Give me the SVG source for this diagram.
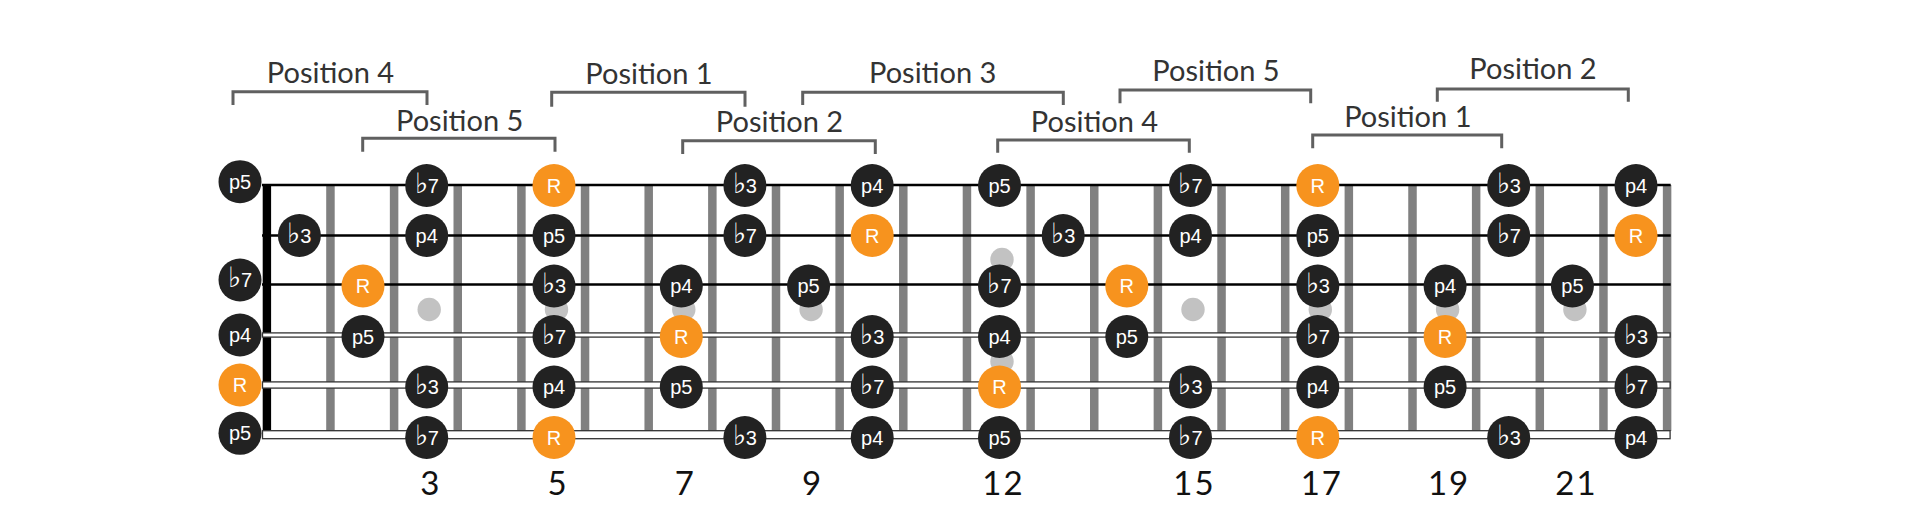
<svg xmlns="http://www.w3.org/2000/svg" width="1920" height="525" viewBox="0 0 1920 525">
<style>
.bg{fill:#ffffff}
.fret{stroke:#808080;stroke-width:8.5;fill:none}
.dot{fill:#c2c2c2}
.nut{fill:#000}
.thin{stroke:#000;stroke-width:2.3}
.wound{fill:#fff;stroke:#333;stroke-width:1.3}
.note circle{stroke:none}
.dk circle{fill:#222222}
.or circle{fill:#F7931E}
.note text{font-family:"Liberation Sans","DejaVu Sans",sans-serif;font-size:20px;fill:#fff;text-anchor:middle}
.flat{font-family:"DejaVu Sans",sans-serif;font-weight:200;font-size:28px}
.num{font-family:Lato,"Liberation Sans",sans-serif;font-size:33px;fill:#111;text-anchor:middle}
.wide{letter-spacing:2px}
.plabel{font-family:Lato,"Liberation Sans",sans-serif;font-size:29px;fill:#333;text-anchor:middle}
.brk{fill:none;stroke:#606060;stroke-width:3;stroke-linejoin:miter}
</style>
<rect class="bg" x="0" y="0" width="1920" height="525"/>

<g id="fretboard">
  <path class="fret" d="M330.45 185V431M394.1 185V431M457.75 185V431M521.4 185V431M585.05 185V431M648.7 185V431M712.35 185V431M776 185V431M839.65 185V431M903.3 185V431M966.95 185V431M1030.6 185V431M1094.25 185V431M1157.9 185V431M1221.55 185V431M1285.2 185V431M1348.85 185V431M1412.5 185V431M1476.15 185V431M1539.8 185V431M1603.45 185V431M1667.1 185V431"/>
  <g id="inlays">
    <circle class="dot" cx="429.2" cy="309.5" r="11.7"/>
    <circle class="dot" cx="556.5" cy="309.5" r="11.7"/>
    <circle class="dot" cx="683.8" cy="309.5" r="11.7"/>
    <circle class="dot" cx="811.1" cy="309.5" r="11.7"/>
    <circle class="dot" cx="1002" cy="259.5" r="11.7"/>
    <circle class="dot" cx="1002" cy="361.5" r="11.7"/>
    <circle class="dot" cx="1193" cy="309.5" r="11.7"/>
    <circle class="dot" cx="1320.3" cy="309.5" r="11.7"/>
    <circle class="dot" cx="1447.6" cy="309.5" r="11.7"/>
    <circle class="dot" cx="1574.9" cy="309.5" r="11.7"/>
  </g>
  <rect class="nut" x="262.7" y="184" width="8.4" height="246"/>
  <g id="strings">
    <line class="thin" x1="262" y1="185" x2="1670.7" y2="185"/>
    <line class="thin" x1="262" y1="235.5" x2="1670.7" y2="235.5"/>
    <line class="thin" x1="262" y1="284.5" x2="1670.7" y2="284.5"/>
    <rect class="wound" x="262.5" y="332.9" width="1407.6" height="4.2"/>
    <rect class="wound" x="262.5" y="381.9" width="1407.6" height="6.2"/>
    <rect class="wound" x="262.5" y="430.7" width="1407.6" height="8"/>
  </g>
</g>

<g id="fret-numbers">
  <text class="num" x="429.7" y="495">3</text>
  <text class="num" x="557" y="495">5</text>
  <text class="num" x="684.3" y="495">7</text>
  <text class="num" x="811.6" y="495">9</text>
  <text class="num wide" x="1003.5" y="495">12</text>
  <text class="num wide" x="1194.5" y="495">15</text>
  <text class="num wide" x="1321.8" y="495">17</text>
  <text class="num wide" x="1449.1" y="495">19</text>
  <text class="num wide" x="1576.4" y="495">21</text>
</g>

<g id="notes">
  <!-- string 1 -->
  <g id="s1-f0" class="note dk"><circle cx="240" cy="181.7" r="21.5"/><text x="240" y="188.8">p5</text></g>
  <g id="s1-f3" class="note dk"><circle cx="426.7" cy="185.5" r="21.5"/><text x="426.7" y="192.6"><tspan class="flat">♭</tspan>7</text></g>
  <g id="s1-f5" class="note or"><circle cx="554" cy="185.5" r="21.5"/><text x="554" y="192.6">R</text></g>
  <g id="s1-f8" class="note dk"><circle cx="744.9" cy="185.5" r="21.5"/><text x="744.9" y="192.6"><tspan class="flat">♭</tspan>3</text></g>
  <g id="s1-f10" class="note dk"><circle cx="872.2" cy="185.5" r="21.5"/><text x="872.2" y="192.6">p4</text></g>
  <g id="s1-f12" class="note dk"><circle cx="999.5" cy="185.5" r="21.5"/><text x="999.5" y="192.6">p5</text></g>
  <g id="s1-f15" class="note dk"><circle cx="1190.5" cy="185.5" r="21.5"/><text x="1190.5" y="192.6"><tspan class="flat">♭</tspan>7</text></g>
  <g id="s1-f17" class="note or"><circle cx="1317.8" cy="185.5" r="21.5"/><text x="1317.8" y="192.6">R</text></g>
  <g id="s1-f20" class="note dk"><circle cx="1508.7" cy="185.5" r="21.5"/><text x="1508.7" y="192.6"><tspan class="flat">♭</tspan>3</text></g>
  <g id="s1-f22" class="note dk"><circle cx="1636" cy="185.5" r="21.5"/><text x="1636" y="192.6">p4</text></g>
  <!-- string 2 -->
  <g id="s2-f1" class="note dk"><circle cx="299.4" cy="235.5" r="21.5"/><text x="299.4" y="242.6"><tspan class="flat">♭</tspan>3</text></g>
  <g id="s2-f3" class="note dk"><circle cx="426.7" cy="235.5" r="21.5"/><text x="426.7" y="242.6">p4</text></g>
  <g id="s2-f5" class="note dk"><circle cx="554" cy="235.5" r="21.5"/><text x="554" y="242.6">p5</text></g>
  <g id="s2-f8" class="note dk"><circle cx="744.9" cy="235.5" r="21.5"/><text x="744.9" y="242.6"><tspan class="flat">♭</tspan>7</text></g>
  <g id="s2-f10" class="note or"><circle cx="872.2" cy="235.5" r="21.5"/><text x="872.2" y="242.6">R</text></g>
  <g id="s2-f13" class="note dk"><circle cx="1063.2" cy="235.5" r="21.5"/><text x="1063.2" y="242.6"><tspan class="flat">♭</tspan>3</text></g>
  <g id="s2-f15" class="note dk"><circle cx="1190.5" cy="235.5" r="21.5"/><text x="1190.5" y="242.6">p4</text></g>
  <g id="s2-f17" class="note dk"><circle cx="1317.8" cy="235.5" r="21.5"/><text x="1317.8" y="242.6">p5</text></g>
  <g id="s2-f20" class="note dk"><circle cx="1508.7" cy="235.5" r="21.5"/><text x="1508.7" y="242.6"><tspan class="flat">♭</tspan>7</text></g>
  <g id="s2-f22" class="note or"><circle cx="1636" cy="235.5" r="21.5"/><text x="1636" y="242.6">R</text></g>
  <!-- string 3 -->
  <g id="s3-f0" class="note dk"><circle cx="240" cy="280" r="21.5"/><text x="240" y="287.1"><tspan class="flat">♭</tspan>7</text></g>
  <g id="s3-f2" class="note or"><circle cx="363" cy="286" r="21.5"/><text x="363" y="293.1">R</text></g>
  <g id="s3-f5" class="note dk"><circle cx="554" cy="286" r="21.5"/><text x="554" y="293.1"><tspan class="flat">♭</tspan>3</text></g>
  <g id="s3-f7" class="note dk"><circle cx="681.3" cy="286" r="21.5"/><text x="681.3" y="293.1">p4</text></g>
  <g id="s3-f9" class="note dk"><circle cx="808.6" cy="286" r="21.5"/><text x="808.6" y="293.1">p5</text></g>
  <g id="s3-f12" class="note dk"><circle cx="999.5" cy="286" r="21.5"/><text x="999.5" y="293.1"><tspan class="flat">♭</tspan>7</text></g>
  <g id="s3-f14" class="note or"><circle cx="1126.8" cy="286" r="21.5"/><text x="1126.8" y="293.1">R</text></g>
  <g id="s3-f17" class="note dk"><circle cx="1317.8" cy="286" r="21.5"/><text x="1317.8" y="293.1"><tspan class="flat">♭</tspan>3</text></g>
  <g id="s3-f19" class="note dk"><circle cx="1445.1" cy="286" r="21.5"/><text x="1445.1" y="293.1">p4</text></g>
  <g id="s3-f21" class="note dk"><circle cx="1572.4" cy="286" r="21.5"/><text x="1572.4" y="293.1">p5</text></g>
  <!-- string 4 -->
  <g id="s4-f0" class="note dk"><circle cx="240" cy="335" r="21.5"/><text x="240" y="342.1">p4</text></g>
  <g id="s4-f2" class="note dk"><circle cx="363" cy="336.5" r="21.5"/><text x="363" y="343.6">p5</text></g>
  <g id="s4-f5" class="note dk"><circle cx="554" cy="336.5" r="21.5"/><text x="554" y="343.6"><tspan class="flat">♭</tspan>7</text></g>
  <g id="s4-f7" class="note or"><circle cx="681.3" cy="336.5" r="21.5"/><text x="681.3" y="343.6">R</text></g>
  <g id="s4-f10" class="note dk"><circle cx="872.2" cy="336.5" r="21.5"/><text x="872.2" y="343.6"><tspan class="flat">♭</tspan>3</text></g>
  <g id="s4-f12" class="note dk"><circle cx="999.5" cy="336.5" r="21.5"/><text x="999.5" y="343.6">p4</text></g>
  <g id="s4-f14" class="note dk"><circle cx="1126.8" cy="336.5" r="21.5"/><text x="1126.8" y="343.6">p5</text></g>
  <g id="s4-f17" class="note dk"><circle cx="1317.8" cy="336.5" r="21.5"/><text x="1317.8" y="343.6"><tspan class="flat">♭</tspan>7</text></g>
  <g id="s4-f19" class="note or"><circle cx="1445.1" cy="336.5" r="21.5"/><text x="1445.1" y="343.6">R</text></g>
  <g id="s4-f22" class="note dk"><circle cx="1636" cy="336.5" r="21.5"/><text x="1636" y="343.6"><tspan class="flat">♭</tspan>3</text></g>
  <!-- string 5 -->
  <g id="s5-f0" class="note or"><circle cx="240" cy="385" r="21.5"/><text x="240" y="392.1">R</text></g>
  <g id="s5-f3" class="note dk"><circle cx="426.7" cy="387" r="21.5"/><text x="426.7" y="394.1"><tspan class="flat">♭</tspan>3</text></g>
  <g id="s5-f5" class="note dk"><circle cx="554" cy="387" r="21.5"/><text x="554" y="394.1">p4</text></g>
  <g id="s5-f7" class="note dk"><circle cx="681.3" cy="387" r="21.5"/><text x="681.3" y="394.1">p5</text></g>
  <g id="s5-f10" class="note dk"><circle cx="872.2" cy="387" r="21.5"/><text x="872.2" y="394.1"><tspan class="flat">♭</tspan>7</text></g>
  <g id="s5-f12" class="note or"><circle cx="999.5" cy="387" r="21.5"/><text x="999.5" y="394.1">R</text></g>
  <g id="s5-f15" class="note dk"><circle cx="1190.5" cy="387" r="21.5"/><text x="1190.5" y="394.1"><tspan class="flat">♭</tspan>3</text></g>
  <g id="s5-f17" class="note dk"><circle cx="1317.8" cy="387" r="21.5"/><text x="1317.8" y="394.1">p4</text></g>
  <g id="s5-f19" class="note dk"><circle cx="1445.1" cy="387" r="21.5"/><text x="1445.1" y="394.1">p5</text></g>
  <g id="s5-f22" class="note dk"><circle cx="1636" cy="387" r="21.5"/><text x="1636" y="394.1"><tspan class="flat">♭</tspan>7</text></g>
  <!-- string 6 -->
  <g id="s6-f0" class="note dk"><circle cx="240" cy="433.3" r="21.5"/><text x="240" y="440.4">p5</text></g>
  <g id="s6-f3" class="note dk"><circle cx="426.7" cy="437.5" r="21.5"/><text x="426.7" y="444.6"><tspan class="flat">♭</tspan>7</text></g>
  <g id="s6-f5" class="note or"><circle cx="554" cy="437.5" r="21.5"/><text x="554" y="444.6">R</text></g>
  <g id="s6-f8" class="note dk"><circle cx="744.9" cy="437.5" r="21.5"/><text x="744.9" y="444.6"><tspan class="flat">♭</tspan>3</text></g>
  <g id="s6-f10" class="note dk"><circle cx="872.2" cy="437.5" r="21.5"/><text x="872.2" y="444.6">p4</text></g>
  <g id="s6-f12" class="note dk"><circle cx="999.5" cy="437.5" r="21.5"/><text x="999.5" y="444.6">p5</text></g>
  <g id="s6-f15" class="note dk"><circle cx="1190.5" cy="437.5" r="21.5"/><text x="1190.5" y="444.6"><tspan class="flat">♭</tspan>7</text></g>
  <g id="s6-f17" class="note or"><circle cx="1317.8" cy="437.5" r="21.5"/><text x="1317.8" y="444.6">R</text></g>
  <g id="s6-f20" class="note dk"><circle cx="1508.7" cy="437.5" r="21.5"/><text x="1508.7" y="444.6"><tspan class="flat">♭</tspan>3</text></g>
  <g id="s6-f22" class="note dk"><circle cx="1636" cy="437.5" r="21.5"/><text x="1636" y="444.6">p4</text></g>
</g>

<g id="positions">
  <g id="pos4-a"><path class="brk" d="M233 105V91.7H427V105"/><text class="plabel" x="330.5" y="83.3">Position 4</text></g>
  <g id="pos5-a"><path class="brk" d="M362.7 151.7V138.3H555V151.7"/><text class="plabel" x="459.7" y="130.7">Position 5</text></g>
  <g id="pos1-a"><path class="brk" d="M551.7 106.7V92.3H745V106.7"/><text class="plabel" x="649" y="84.3">Position 1</text></g>
  <g id="pos2-a"><path class="brk" d="M682.7 154V140.7H875.3V154"/><text class="plabel" x="779.5" y="131.7">Position 2</text></g>
  <g id="pos3"><path class="brk" d="M802.7 105V92.3H1063.3V105"/><text class="plabel" x="932.7" y="82.7">Position 3</text></g>
  <g id="pos4-b"><path class="brk" d="M997.7 152.7V140H1189.3V152.7"/><text class="plabel" x="1094.5" y="131.7">Position 4</text></g>
  <g id="pos5-b"><path class="brk" d="M1120 103.3V90H1310.7V103.3"/><text class="plabel" x="1216" y="81">Position 5</text></g>
  <g id="pos1-b"><path class="brk" d="M1312.7 148.3V135H1501.7V148.3"/><text class="plabel" x="1407.8" y="126.7">Position 1</text></g>
  <g id="pos2-b"><path class="brk" d="M1437.3 101.7V89H1628.3V101.7"/><text class="plabel" x="1533" y="79.3">Position 2</text></g>
</g>
</svg>
